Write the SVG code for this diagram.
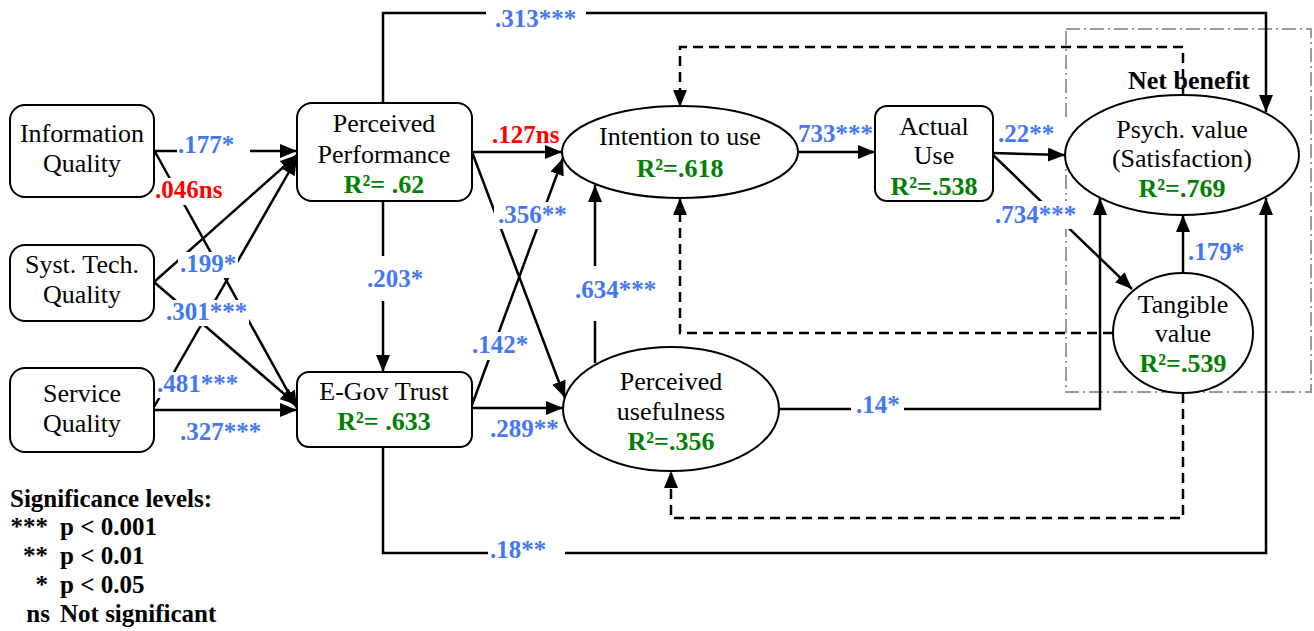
<svg xmlns="http://www.w3.org/2000/svg" width="1314" height="631" viewBox="0 0 1314 631">
<style>
.node{fill:#fff;stroke:#000;stroke-width:2}
.t{font-family:"Liberation Serif","Times New Roman",serif;font-size:26px;fill:#000;text-anchor:middle}
.r{font-family:"Liberation Serif","Times New Roman",serif;font-size:26px;font-weight:bold;fill:#008000;text-anchor:middle}
.c{fill:none;stroke:#000;stroke-width:2.5}
.d{fill:none;stroke:#000;stroke-width:2.5;stroke-dasharray:10 6}
.lb{font-family:"Liberation Serif","Times New Roman",serif;font-size:25px;font-weight:bold;fill:#4477f2}
.ns{font-family:"Liberation Serif","Times New Roman",serif;font-size:25px;font-weight:bold;fill:#ff0000}
.bg{fill:#fff}
.lg{font-family:"Liberation Serif","Times New Roman",serif;font-size:25px;font-weight:bold;fill:#000}
</style>
<defs>
<marker id="ah" markerUnits="userSpaceOnUse" markerWidth="18" markerHeight="14" refX="17" refY="7" orient="auto">
<path d="M0,0 L17,7 L0,14 z" fill="#000"/>
</marker>
</defs>
<rect width="1314" height="631" fill="#fff"/>

<g id="netbenefit-box">
<rect x="1066" y="29" width="245" height="363" fill="none" stroke="#999" stroke-width="2" stroke-dasharray="14 4 2 4"/>
</g>

<g id="connectors">
<path class="c" d="M383,103 V13 H1266 V112" marker-end="url(#ah)"/>
<path class="c" d="M383,447 V553 H1266 V198" marker-end="url(#ah)"/>
<path class="d" d="M1183,95 V47 H680 V107" marker-end="url(#ah)"/>
<path class="d" d="M1113,333 H680 V198" marker-end="url(#ah)"/>
<path class="d" d="M1183,393 V518 H671 V471" marker-end="url(#ah)"/>
<path class="c" d="M779,409 H1100 V198" marker-end="url(#ah)"/>
<path class="c" d="M595,363 V185" marker-end="url(#ah)"/>
<path class="c" d="M799,152 H875" marker-end="url(#ah)"/>
<path class="c" d="M993,153 L1065,155" marker-end="url(#ah)"/>
<path class="c" d="M993,155 L1132,289" marker-end="url(#ah)"/>
<path class="c" d="M1183,273 V215" marker-end="url(#ah)"/>
<path class="c" d="M472,152 H562" marker-end="url(#ah)"/>
<path class="c" d="M472,152 L565,398" marker-end="url(#ah)"/>
<path class="c" d="M472,405 L563,158" marker-end="url(#ah)"/>
<path class="c" d="M472,408 H563" marker-end="url(#ah)"/>
<path class="c" d="M383,201 V372" marker-end="url(#ah)"/>
<path class="c" d="M154,151 H297" marker-end="url(#ah)"/>
<path class="c" d="M154,150 L297,408" marker-end="url(#ah)"/>
<path class="c" d="M154,282 L297,155" marker-end="url(#ah)"/>
<path class="c" d="M154,282 L297,405" marker-end="url(#ah)"/>
<path class="c" d="M154,407 L297,158" marker-end="url(#ah)"/>
<path class="c" d="M154,410 H297" marker-end="url(#ah)"/>
</g>

<g id="labels">
<rect class="bg" x="486" y="0" width="100" height="29"/>
<text class="lb" x="495" y="27">.313***</text>
<rect class="bg" x="488" y="538" width="77" height="30"/>
<text class="lb" x="490" y="558">.18**</text>
<text class="ns" x="492" y="143">.127ns</text>
<rect class="bg" x="494" y="202" width="80" height="27"/>
<text class="lb" x="498" y="223">.356**</text>
<rect class="bg" x="469" y="332" width="61" height="28"/>
<text class="lb" x="472" y="353">.142*</text>
<text class="lb" x="490" y="437">.289**</text>
<rect class="bg" x="362" y="256" width="60" height="45"/>
<text class="lb" x="367" y="287">.203*</text>
<rect class="bg" x="572" y="266" width="88" height="55"/>
<text class="lb" x="575" y="298">.634***</text>
<text class="lb" x="798" y="142">733***</text>
<rect class="bg" x="996" y="118" width="72" height="27"/>
<text class="lb" x="998" y="142">.22**</text>
<rect class="bg" x="993" y="201" width="85" height="28"/>
<text class="lb" x="995" y="223">.734***</text>
<text class="lb" x="1188" y="260">.179*</text>
<rect class="bg" x="851" y="392" width="53" height="28"/>
<text class="lb" x="856" y="413">.14*</text>
<rect class="bg" x="177" y="136" width="73" height="24"/>
<text class="lb" x="178" y="153">.177*</text>
<rect class="bg" x="155" y="178" width="69" height="27"/>
<text class="ns" x="155" y="198">.046ns</text>
<rect class="bg" x="178" y="252" width="60" height="26"/>
<text class="lb" x="180" y="272">.199*</text>
<rect class="bg" x="164" y="300" width="85" height="26"/>
<text class="lb" x="166" y="320">.301***</text>
<rect class="bg" x="158" y="372" width="82" height="26"/>
<text class="lb" x="157" y="392">.481***</text>
<text class="lb" x="180" y="440">.327***</text>
</g>

<g id="n-iq">
<rect class="node" x="10" y="105" width="144" height="92" rx="15"/>
<text class="t" x="82" y="142">Information</text>
<text class="t" x="82" y="172">Quality</text>
</g>
<g id="n-stq">
<rect class="node" x="10" y="245" width="144" height="76" rx="15"/>
<text class="t" x="82" y="273">Syst. Tech.</text>
<text class="t" x="82" y="303">Quality</text>
</g>
<g id="n-sq">
<rect class="node" x="10" y="368" width="144" height="84" rx="15"/>
<text class="t" x="82" y="402">Service</text>
<text class="t" x="82" y="432">Quality</text>
</g>
<g id="n-pp">
<rect class="node" x="297" y="103" width="175" height="98" rx="15"/>
<text class="t" x="384" y="132">Perceived</text>
<text class="t" x="384" y="163">Performance</text>
<text class="r" x="384" y="193">R²= .62</text>
</g>
<g id="n-egov">
<rect class="node" x="297" y="372" width="175" height="75" rx="12"/>
<text class="t" x="384" y="400">E-Gov Trust</text>
<text class="r" x="384" y="430">R²= .633</text>
</g>
<g id="n-itu">
<ellipse class="node" cx="680" cy="152" rx="118" ry="46"/>
<text class="t" x="680" y="145">Intention to use</text>
<text class="r" x="680" y="177">R²=.618</text>
</g>
<g id="n-au">
<rect class="node" x="875" y="106" width="118" height="95" rx="12"/>
<text class="t" x="934" y="135">Actual</text>
<text class="t" x="934" y="164">Use</text>
<text class="r" x="934" y="195">R²=.538</text>
</g>
<g id="n-pv">
<ellipse class="node" cx="1182" cy="155" rx="117" ry="60"/>
<text class="t" x="1182" y="138">Psych. value</text>
<text class="t" x="1182" y="167">(Satisfaction)</text>
<text class="r" x="1182" y="197">R²=.769</text>
</g>
<g id="n-tv">
<ellipse class="node" cx="1183" cy="333" rx="70" ry="60"/>
<text class="t" x="1183" y="313">Tangible</text>
<text class="t" x="1183" y="342">value</text>
<text class="r" x="1183" y="372">R²=.539</text>
</g>
<g id="n-pu">
<ellipse class="node" cx="671" cy="409" rx="108" ry="62"/>
<text class="t" x="671" y="390">Perceived</text>
<text class="t" x="671" y="420">usefulness</text>
<text class="r" x="671" y="450">R²=.356</text>
</g>
<g id="n-nb">
<text class="lg" x="1128" y="89" style="font-size:26px">Net benefit</text>
</g>

<g id="legend">
<text class="lg" x="10" y="507">Significance levels:</text>
<text class="lg" x="48" y="535" text-anchor="end">***</text>
<text class="lg" x="60" y="535">p &lt; 0.001</text>
<text class="lg" x="48" y="564" text-anchor="end">**</text>
<text class="lg" x="60" y="564">p &lt; 0.01</text>
<text class="lg" x="48" y="593" text-anchor="end">*</text>
<text class="lg" x="60" y="593">p &lt; 0.05</text>
<text class="lg" x="50" y="622" text-anchor="end">ns</text>
<text class="lg" x="60" y="622">Not significant</text>
</g>
</svg>
